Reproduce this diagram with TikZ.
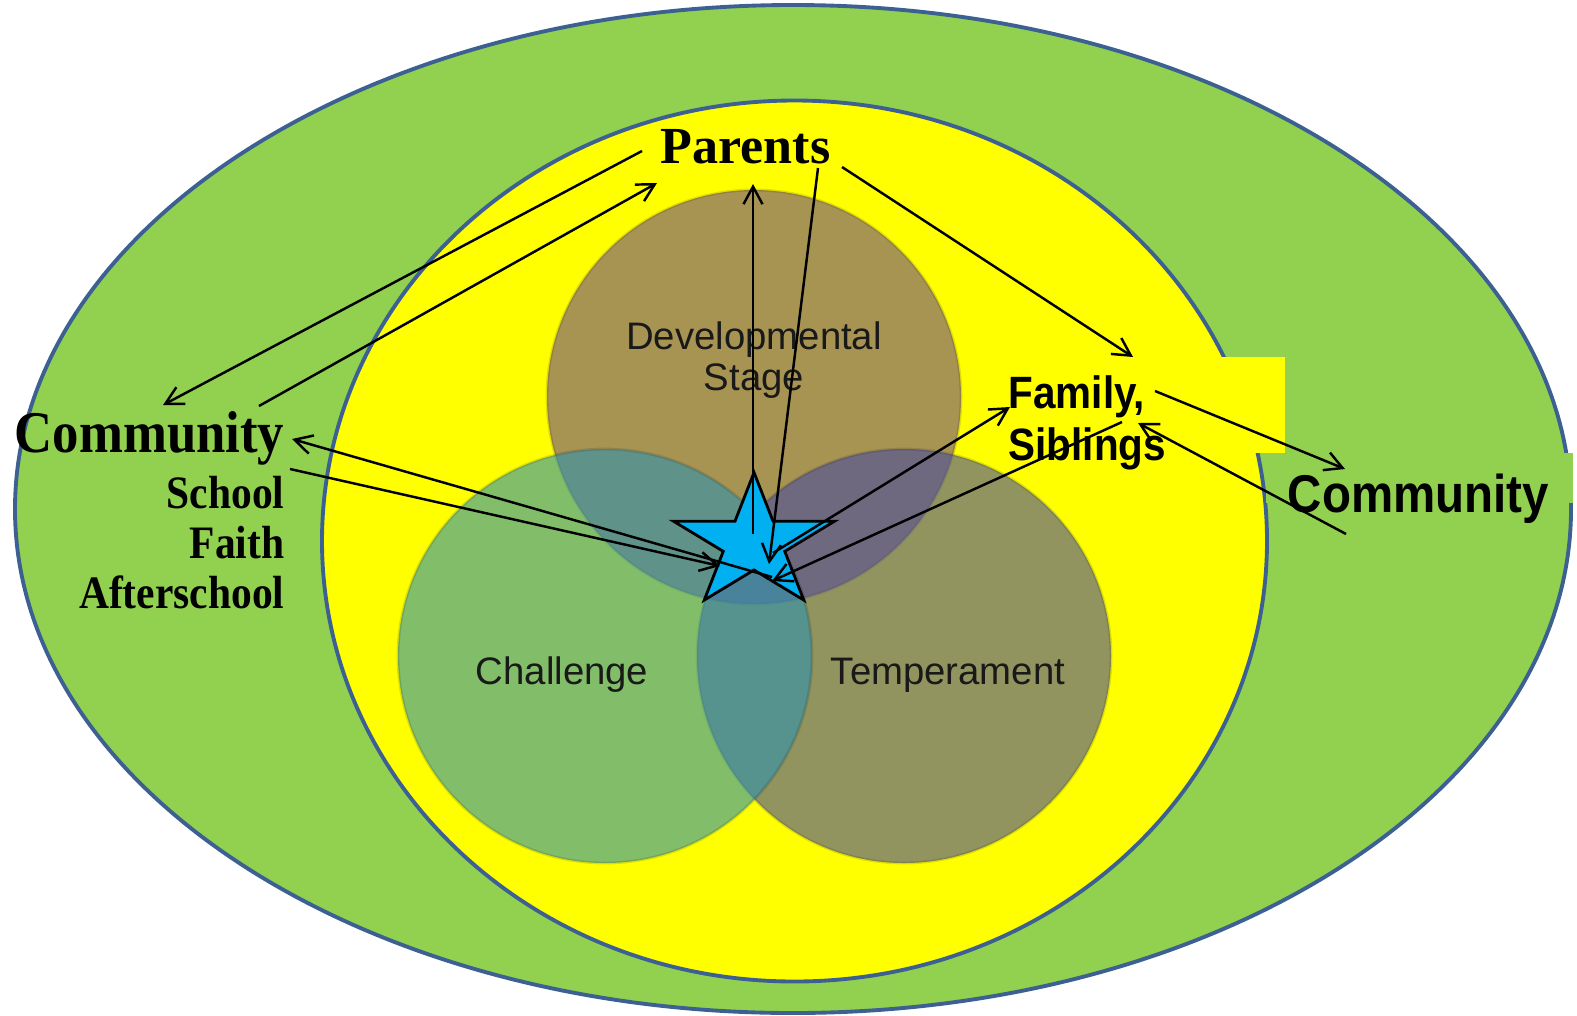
\documentclass[tikz,border=0pt]{standalone}
\usepackage{fontspec}
\setmainfont{Liberation Serif}
\newfontfamily\arialfont{Liberation Sans}
\usepackage{graphicx}
\usetikzlibrary{arrows.meta,shapes.geometric}
\definecolor{OuterClr}{RGB}{146,208,80}
\definecolor{InnerClr}{RGB}{255,255,0}
\definecolor{RingClr}{RGB}{60,96,146}
\definecolor{StageClr}{RGB}{110,77,137}
\definecolor{ChallengeClr}{RGB}{47,147,175}
\definecolor{TemperClr}{RGB}{72,77,158}
\definecolor{StarClr}{RGB}{0,176,240}
\newcommand{\tall}[1]{\scalebox{1}[1.12]{#1}}

\begin{document}
\begin{tikzpicture}[x=0.01cm,y=-0.01cm,
  ring/.style={draw=RingClr,line width=1.1pt},
  venn/.style={fill opacity=0.6,draw=black,draw opacity=0.12,line width=0.8pt},
  vennlabel/.style={font=\arialfont\fontsize{10.9}{13}\selectfont,text=black!90,inner sep=0pt,anchor=base},
  serifbig/.style={font=\bfseries\fontsize{15}{18}\selectfont,inner sep=0pt},
  serifsmall/.style={font=\bfseries\fontsize{11.8}{14}\selectfont,inner sep=0pt,anchor=base east},
  sansbold/.style={font=\arialfont\bfseries\fontsize{11.5}{14}\selectfont,inner sep=0pt,anchor=base west},
  link/.style={line width=0.7pt,-{Straight Barb[length=5pt,width=5.4pt]}}]
\useasboundingbox (0,0) rectangle (1577,1015);

% rings
\draw[ring,fill=OuterClr] (793,509) ellipse [x radius=778,y radius=504];
\draw[ring,fill=InnerClr] (794.5,541) ellipse [x radius=472.5,y radius=440.5];
\fill[InnerClr] (1000,357) rectangle (1285,453);
\fill[OuterClr] (1266,453) rectangle (1573,503);

% venn
\path[venn,fill=StageClr] (754,397) circle [radius=207];
\path[venn,fill=TemperClr] (904,656) circle [radius=207];
\path[venn,fill=ChallengeClr] (605,656) circle [radius=207];
\node[vennlabel] (dev) at (754,349) {Developmental};
\node[vennlabel] (stage) at (754,390) {Stage};
\node[vennlabel] (challenge) at (562,684) {Challenge};
\node[vennlabel] (temper) at (948,684) {Temperament};

\begin{scope}[shift={(754,543)},xscale=1.2]
\node[star,star points=5,star point ratio=2.618,minimum size=1.41cm,inner sep=0pt,
  fill=StarClr,draw=black,line width=0.8pt,transform shape] (focus) {};
\end{scope}

% labels
\node[serifbig,font=\bfseries\fontsize{14.8}{18}\selectfont,anchor=base west] (parents) at (660,163) {Parents};
\node[serifbig,anchor=base east] (commL) at (285,452) {\tall{Community}};
\node[serifsmall] (school) at (285,508) {\tall{School}};
\node[serifsmall] (faith) at (285,558) {\tall{Faith}};
\node[serifsmall] (after) at (285,608) {\tall{Afterschool}};
\node[sansbold] (family) at (1008,408) {\tall{Family,}};
\node[sansbold] (siblings) at (1008,460) {\tall{Siblings}};
\node[sansbold,font=\arialfont\bfseries\fontsize{13.5}{16}\selectfont] (commR) at (1287,512) {\tall{Community}};

% arrow ends
\coordinate (pL1) at (642,151);
\coordinate (pL2) at (657,183);
\coordinate (pC1) at (753,184);
\coordinate (pC2) at (818,168);
\coordinate (pR) at (842,167);
\coordinate (cL1) at (163,405);
\coordinate (cL2) at (259,406);
\coordinate (cL3) at (292,439);
\coordinate (cL4) at (290,469);
\coordinate (fA) at (1133,357);
\coordinate (fB) at (1155,391);
\coordinate (fC) at (1138,423);
\coordinate (fD) at (1010,407);
\coordinate (fE) at (1122,422);
\coordinate (cR1) at (1345,469);
\coordinate (cR2) at (1346,534);
\coordinate (s1) at (753,534);
\coordinate (s2) at (769,564);
\coordinate (s3) at (773,553);
\coordinate (s4) at (772,581);
\coordinate (s5) at (772,577);
\coordinate (s6) at (720,566);

\draw[link] (pL1) -- (cL1);
\draw[link] (cL2) -- (pL2);
\draw[link] (s1) -- (pC1);
\draw[link] (pC2) -- (s2);
\draw[link] (pR) -- (fA);
\draw[link] (fB) -- (cR1);
\draw[link] (cR2) -- (fC);
\draw[link] (s3) -- (fD);
\draw[link] (fE) -- (s4);
\draw[link] (s5) -- (cL3);
\draw[link] (cL4) -- (s6);

\end{tikzpicture}
\end{document}
